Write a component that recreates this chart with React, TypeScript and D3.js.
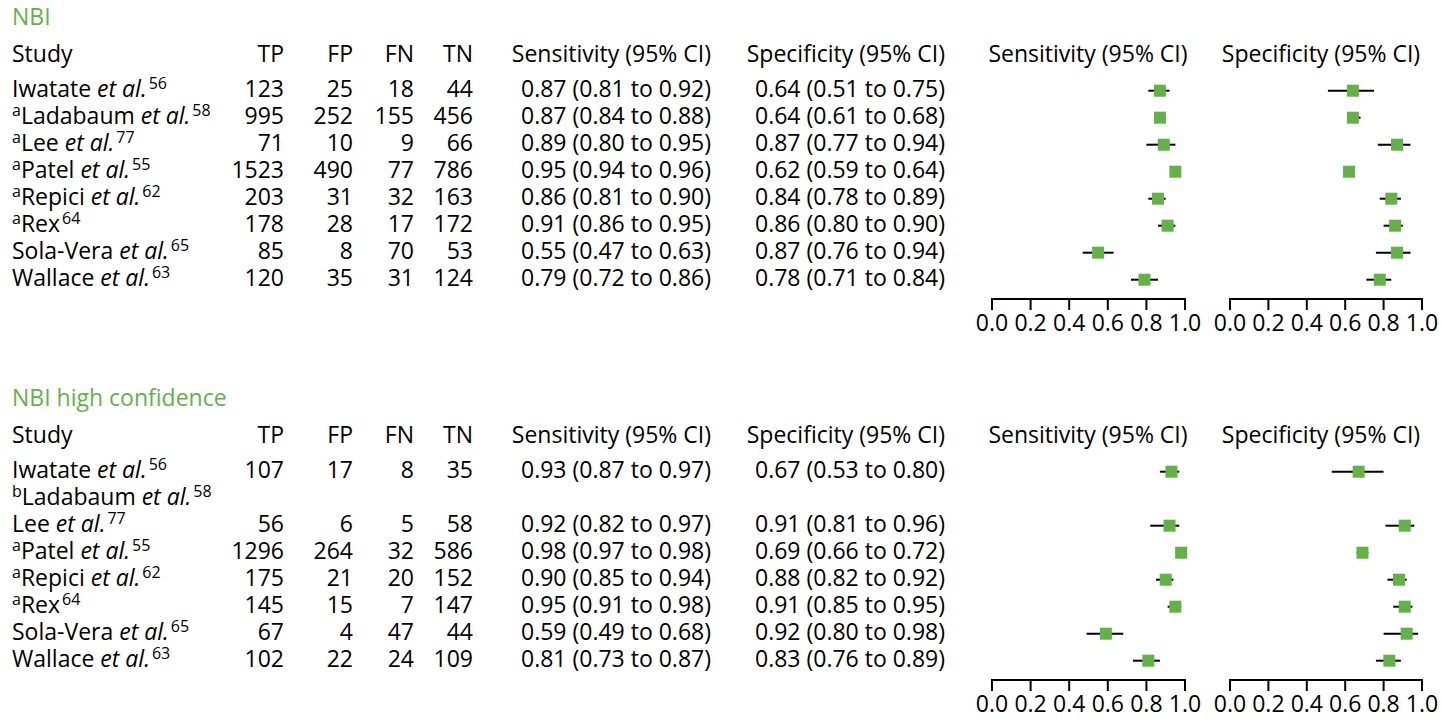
import React from 'react';
import * as d3 from 'd3';

// study list shared by both panels
const studyNames = ['Iwatate', 'Ladabaum', 'Lee', 'Patel', 'Repici', 'Rex', 'Sola-Vera', 'Wallace'];
const studyEtAl = [true, true, true, true, true, false, true, true];
const studyRefs = ['56', '58', '77', '55', '62', '64', '65', '63'];

// NBI panel
const nbiNotes = ['', 'a', 'a', 'a', 'a', 'a', '', ''];
const nbiCounts = [
  [123, 25, 18, 44],
  [995, 252, 155, 456],
  [71, 10, 9, 66],
  [1523, 490, 77, 786],
  [203, 31, 32, 163],
  [178, 28, 17, 172],
  [85, 8, 70, 53],
  [120, 35, 31, 124],
];
const nbiSens = [
  [0.87, 0.81, 0.92],
  [0.87, 0.84, 0.88],
  [0.89, 0.8, 0.95],
  [0.95, 0.94, 0.96],
  [0.86, 0.81, 0.9],
  [0.91, 0.86, 0.95],
  [0.55, 0.47, 0.63],
  [0.79, 0.72, 0.86],
];
const nbiSpec = [
  [0.64, 0.51, 0.75],
  [0.64, 0.61, 0.68],
  [0.87, 0.77, 0.94],
  [0.62, 0.59, 0.64],
  [0.84, 0.78, 0.89],
  [0.86, 0.8, 0.9],
  [0.87, 0.76, 0.94],
  [0.78, 0.71, 0.84],
];

// NBI high confidence panel (Ladabaum has no data)
const hcNotes = ['', 'b', '', 'a', 'a', 'a', '', ''];
const hcCounts = [
  [107, 17, 8, 35],
  null,
  [56, 6, 5, 58],
  [1296, 264, 32, 586],
  [175, 21, 20, 152],
  [145, 15, 7, 147],
  [67, 4, 47, 44],
  [102, 22, 24, 109],
];
const hcSens = [
  [0.93, 0.87, 0.97],
  null,
  [0.92, 0.82, 0.97],
  [0.98, 0.97, 0.98],
  [0.9, 0.85, 0.94],
  [0.95, 0.91, 0.98],
  [0.59, 0.49, 0.68],
  [0.81, 0.73, 0.87],
];
const hcSpec = [
  [0.67, 0.53, 0.8],
  null,
  [0.91, 0.81, 0.96],
  [0.69, 0.66, 0.72],
  [0.88, 0.82, 0.92],
  [0.91, 0.85, 0.95],
  [0.92, 0.8, 0.98],
  [0.83, 0.76, 0.89],
];

const countHeaders = ['TP', 'FP', 'FN', 'TN'];
const axisTicks = [0, 0.2, 0.4, 0.6, 0.8, 1.0];

const GREEN = '#62b346';
const FONT = '"Open Sans", "Noto Sans", sans-serif';
const FS = 23;
const SUP = 16;

const f2 = d3.format('.2f');
const f1 = d3.format('.1f');

const xSens = d3.scaleLinear().domain([0, 1]).range([992, 1185]);
const xSpec = d3.scaleLinear().domain([0, 1]).range([1230, 1422]);
const countRight = [284, 353, 414, 473];

type Est = number[] | null;

interface PanelProps {
  top: number;
  title: string;
  notes: string[];
  counts: (number[] | null)[];
  sens: Est[];
  spec: Est[];
}

const Panel: React.FC<PanelProps> = ({ top, title, notes, counts, sens, spec }) => {
  const y = d3.scaleLinear().domain([0, 7]).range([top + 90.7, top + 279.7]);
  const axisY = top + 299;

  const forest = (x: d3.ScaleLinear<number, number>, est: Est[], key: string) => (
    <g key={key}>
      {est.map((e, i) =>
        e ? (
          <g key={i}>
            <line x1={x(e[1])} x2={x(e[2])} y1={y(i)} y2={y(i)} stroke="#000" strokeWidth={2} />
            <rect x={x(e[0]) - 6} y={y(i) - 6} width={12} height={12} fill={GREEN} />
          </g>
        ) : null
      )}
      <line x1={x(0) - 1} x2={x(1) + 1} y1={axisY} y2={axisY} stroke="#000" strokeWidth={2} />
      {axisTicks.map((t) => (
        <g key={t}>
          <line x1={x(t)} x2={x(t)} y1={axisY} y2={axisY + 11} stroke="#000" strokeWidth={2} />
          <text x={x(t)} y={axisY + 32} textAnchor="middle" fontSize={FS}>
            {f1(t)}
          </text>
        </g>
      ))}
    </g>
  );

  return (
    <g fontFamily={FONT} fill="#000">
      <text x={12} y={top + 25} fontSize={FS} fill={GREEN}>
        {title}
      </text>
      <text x={12} y={top + 61.5} fontSize={FS}>
        Study
      </text>
      {countHeaders.map((h, j) => (
        <text key={h} x={countRight[j]} y={top + 61.5} fontSize={FS} textAnchor="end">
          {h}
        </text>
      ))}
      <text x={711} y={top + 61.5} fontSize={FS} textAnchor="end">
        Sensitivity (95% CI)
      </text>
      <text x={945} y={top + 61.5} fontSize={FS} textAnchor="end">
        Specificity (95% CI)
      </text>
      <text x={1088} y={top + 61.5} fontSize={FS} textAnchor="middle">
        Sensitivity (95% CI)
      </text>
      <text x={1321} y={top + 61.5} fontSize={FS} textAnchor="middle">
        Specificity (95% CI)
      </text>

      {studyNames.map((name, i) => {
        const base = y(i) + 6;
        const c = counts[i];
        const s = sens[i];
        const p = spec[i];
        return (
          <g key={name}>
            <text x={12} y={base} fontSize={FS}>
              {notes[i] ? (
                <tspan fontSize={SUP} dy={-8}>
                  {notes[i]}
                </tspan>
              ) : null}
              <tspan dy={notes[i] ? 8 : 0}>{name}</tspan>
              {studyEtAl[i] ? <tspan fontStyle="italic">{' et al.'}</tspan> : null}
              <tspan fontSize={SUP} dy={-8} dx={2}>
                {studyRefs[i]}
              </tspan>
            </text>
            {c
              ? c.map((v, j) => (
                  <text key={j} x={countRight[j]} y={base} fontSize={FS} textAnchor="end">
                    {v}
                  </text>
                ))
              : null}
            {s ? (
              <text x={711} y={base} fontSize={FS} textAnchor="end">
                {`${f2(s[0])} (${f2(s[1])} to ${f2(s[2])})`}
              </text>
            ) : null}
            {p ? (
              <text x={945} y={base} fontSize={FS} textAnchor="end">
                {`${f2(p[0])} (${f2(p[1])} to ${f2(p[2])})`}
              </text>
            ) : null}
          </g>
        );
      })}

      {forest(xSens, sens, 'sens')}
      {forest(xSpec, spec, 'spec')}
    </g>
  );
};

export default function App() {
  return (
    <svg
      width={1442}
      height={719}
      style={{ position: 'absolute', left: 0, top: 0, background: '#fff' }}
    >
      <rect width={1442} height={719} fill="#fff" />
      <Panel
        top={0}
        title="NBI"
        notes={nbiNotes}
        counts={nbiCounts}
        sens={nbiSens}
        spec={nbiSpec}
      />
      <Panel
        top={381}
        title="NBI high confidence"
        notes={hcNotes}
        counts={hcCounts}
        sens={hcSens}
        spec={hcSpec}
      />
    </svg>
  );
}
